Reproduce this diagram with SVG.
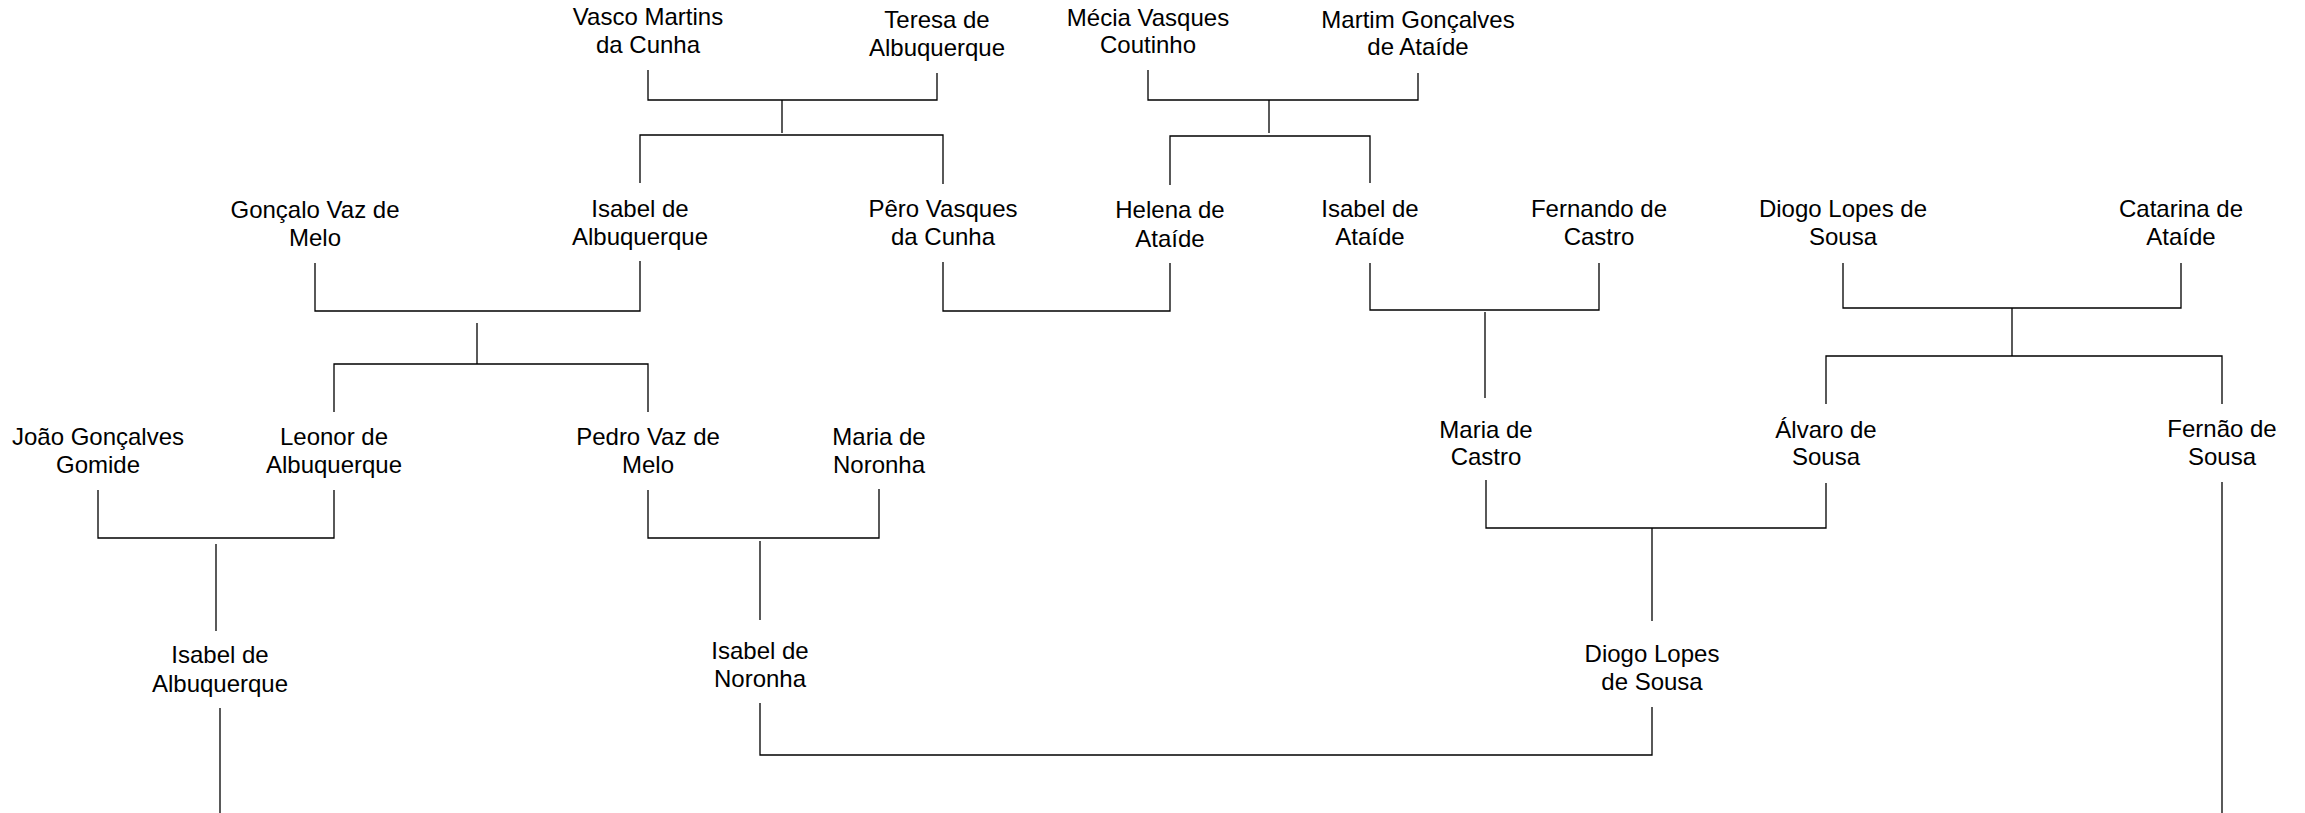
<svg xmlns="http://www.w3.org/2000/svg" width="2305" height="813" viewBox="0 0 2305 813">
<style>
.t{font-family:"Liberation Sans",Arial,sans-serif;font-size:24px;fill:#000;text-anchor:middle}
.c path{fill:none;stroke:#000;stroke-width:1.3}
</style>
<rect width="2305" height="813" fill="#fff"/>
<g id="n-vasco"><text class="t" x="648" y="25">Vasco Martins</text><text class="t" x="648" y="53">da Cunha</text></g>
<g id="n-teresa"><text class="t" x="937" y="28">Teresa de</text><text class="t" x="937" y="56">Albuquerque</text></g>
<g id="n-mecia"><text class="t" x="1148" y="26">Mécia Vasques</text><text class="t" x="1148" y="53">Coutinho</text></g>
<g id="n-martim"><text class="t" x="1418" y="28">Martim Gonçalves</text><text class="t" x="1418" y="55">de Ataíde</text></g>
<g id="n-goncalo"><text class="t" x="315" y="218">Gonçalo Vaz de</text><text class="t" x="315" y="246">Melo</text></g>
<g id="n-isabel-alb1"><text class="t" x="640" y="217">Isabel de</text><text class="t" x="640" y="245">Albuquerque</text></g>
<g id="n-pero"><text class="t" x="943" y="217">Pêro Vasques</text><text class="t" x="943" y="245">da Cunha</text></g>
<g id="n-helena"><text class="t" x="1170" y="218">Helena de</text><text class="t" x="1170" y="247">Ataíde</text></g>
<g id="n-isabel-ataide"><text class="t" x="1370" y="217">Isabel de</text><text class="t" x="1370" y="245">Ataíde</text></g>
<g id="n-fernando"><text class="t" x="1599" y="217">Fernando de</text><text class="t" x="1599" y="245">Castro</text></g>
<g id="n-diogo1"><text class="t" x="1843" y="217">Diogo Lopes de</text><text class="t" x="1843" y="245">Sousa</text></g>
<g id="n-catarina"><text class="t" x="2181" y="217">Catarina de</text><text class="t" x="2181" y="245">Ataíde</text></g>
<g id="n-joao"><text class="t" x="98" y="445">João Gonçalves</text><text class="t" x="98" y="473">Gomide</text></g>
<g id="n-leonor"><text class="t" x="334" y="445">Leonor de</text><text class="t" x="334" y="473">Albuquerque</text></g>
<g id="n-pedro"><text class="t" x="648" y="445">Pedro Vaz de</text><text class="t" x="648" y="473">Melo</text></g>
<g id="n-maria-noronha"><text class="t" x="879" y="445">Maria de</text><text class="t" x="879" y="473">Noronha</text></g>
<g id="n-maria-castro"><text class="t" x="1486" y="438">Maria de</text><text class="t" x="1486" y="465">Castro</text></g>
<g id="n-alvaro"><text class="t" x="1826" y="438">Álvaro de</text><text class="t" x="1826" y="465">Sousa</text></g>
<g id="n-fernao"><text class="t" x="2222" y="437">Fernão de</text><text class="t" x="2222" y="465">Sousa</text></g>
<g id="n-isabel-alb2"><text class="t" x="220" y="663">Isabel de</text><text class="t" x="220" y="692">Albuquerque</text></g>
<g id="n-isabel-noronha"><text class="t" x="760" y="659">Isabel de</text><text class="t" x="760" y="687">Noronha</text></g>
<g id="n-diogo2"><text class="t" x="1652" y="662">Diogo Lopes</text><text class="t" x="1652" y="690">de Sousa</text></g>
<g id="connectors" class="c">
<path d="M648 70V100H937V73"/>
<path d="M782 100V133"/>
<path d="M640 183V135H943V184"/>
<path d="M1148 70V100H1418V73"/>
<path d="M1269 100V133"/>
<path d="M1170 185V136H1370V183"/>
<path d="M315 263V311H640V261"/>
<path d="M477 323V364"/>
<path d="M334 412V364H648V412"/>
<path d="M943 262V311H1170V263"/>
<path d="M1370 263V310H1599V263"/>
<path d="M1485 312V398"/>
<path d="M1843 263V308H2181V263"/>
<path d="M2012 308V356"/>
<path d="M1826 404V356H2222V404"/>
<path d="M98 490V538H334V490"/>
<path d="M216 544V631"/>
<path d="M648 490V538H879V489"/>
<path d="M760 541V620"/>
<path d="M1486 480V528H1826V483"/>
<path d="M1652 528V621"/>
<path d="M760 703V755H1652V707"/>
<path d="M220 708V813"/>
<path d="M2222 482V813"/>
</g>
</svg>
